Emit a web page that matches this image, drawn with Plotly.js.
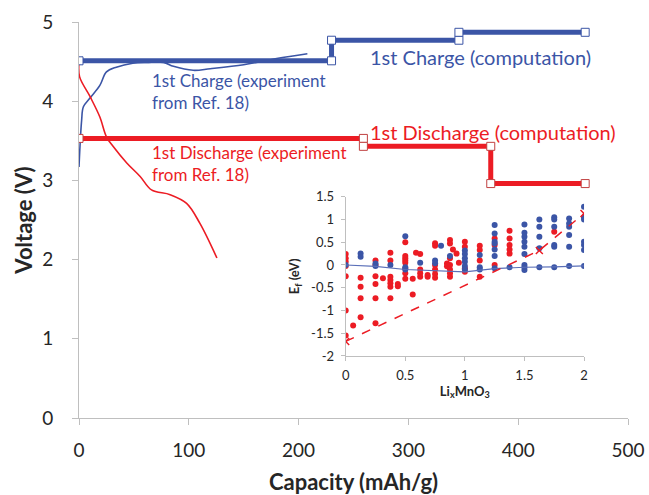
<!DOCTYPE html>
<html>
<head>
<meta charset="utf-8">
<script src="https://cdn.plot.ly/plotly-3.0.1.min.js"></script>
<style>html,body{margin:0;padding:0;background:#fff;}#chart{width:649px;height:495px;}</style>
</head>
<body>
<div id="chart"></div>
<script>
// Main chart: computation step profiles
const chargeCompX = [0, 230, 230, 346, 346, 461];
const chargeCompY = [4.51, 4.51, 4.77, 4.77, 4.87, 4.87];
const dischargeCompX = [0, 259, 259, 375, 375, 461];
const dischargeCompY = [3.53, 3.53, 3.43, 3.43, 2.96, 2.96];

// Main chart: experiment curves (Ref. 18)
const chargeExpX = [0, 2.4, 4, 10, 19, 25, 34, 49, 62, 77, 86, 104, 119.5, 150, 180, 208];
const chargeExpY = [3.17, 3.76, 3.93, 4.04, 4.2, 4.37, 4.43, 4.48, 4.49, 4.49, 4.44, 4.39, 4.41, 4.46, 4.54, 4.6];
const dischargeExpX = [0, 0.5, 10, 19, 25, 31, 43.5, 55.7, 66, 83, 98, 110, 125.6];
const dischargeExpY = [4.5, 4.31, 4.06, 3.8, 3.55, 3.43, 3.22, 3.05, 2.88, 2.82, 2.71, 2.46, 2.02];

// Inset: formation energies
const redX = [0,0,0,0,0,0,0, 0.0625, 0.125,0.125,0.125,0.125, 0.25,0.25,0.25,0.25,0.25,0.25, 0.3125,
  0.375,0.375,0.375,0.375,0.375,0.375,0.375, 0.4375,0.4375, 0.5,0.5,0.5,0.5,0.5,0.5,0.5,0.5,
  0.5625,0.5625, 0.59, 0.625,0.625,0.625,0.625, 0.6875,0.6875, 0.75,0.75,0.75,0.75,0.75,0.75,
  0.85,0.85, 0.875,0.875,0.875,0.875,0.875,0.875,0.875, 0.9, 0.93, 0.95, 1,1,1,1,
  1.125,1.125,1.125,1.125, 1.25,1.25,1.25, 1.375,1.375,1.375,1.375,1.375, 1.75];
const redY = [0.24,0.15,0.07,-0.02,-0.25,-1.0,-1.55, -1.33, -0.28,-0.48,-0.73,-1.15, 0.1,0.0,-0.25,-0.42,-0.73,-1.28, -0.29,
  0.27,0.1,-0.26,-0.33,-0.4,-0.48,-0.73, -0.42,-0.47, 0.5,0.2,0.15,0.1,0.05,-0.08,-0.18,-0.3,
  -0.3,-0.65, 0.27, 0.24,-0.1,-0.18,-0.26, -0.22,-0.26, 0.48,0.42,0,-0.1,-0.2,-0.28,
  0.03,-0.03, 0.55,0.47,0.15,0,-0.1,-0.18,-0.26, 0.34, 0.25, 0.05, 0.51,0.4,-0.07,-0.15,
  0.42,0.33,0.1,-0.26, 0.58,0.44,0, 0.75,0.58,0.44,0.34,0.25, 0.73];
const blueX = [0, 0.125,0.125, 0.25,0.25, 0.375, 0.5,0.5,0.5, 0.625, 0.75,0.75, 0.8, 0.875,
  1,1,1,1,1,1, 1.125,1.125,1.125, 1.25,1.25,1.25,1.25,1.25,1.25,1.25, 1.375,
  1.5,1.5,1.5,1.5,1.5,1.5,1.5,1.5,1.5, 1.625,1.625,1.625,1.625,1.625,
  1.75,1.75,1.75,1.75,1.75,1.75, 1.875,1.875,1.875,1.875,1.875,1.875, 2,2,2,2,2,2,2];
const blueY = [0, 0.25,0.18, 0.03,-0.02, 0, 0.63,-0.05,-0.1, 0.05, 0.1,0.04, 0.42, 0.2,
  0.32,0.24,0.15,0.07,-0.02,-0.1, 0.22,-0.05,-0.1, 0.88,0.69,0.51,0.47,0.34,0.2,-0.07, -0.05,
  0.89,0.71,0.62,0.51,0.4,0.24,0,-0.05,-0.11, 1.0,0.84,0.62,0.37,-0.05,
  1.05,1.0,0.84,0.44,0.4,-0.05, 1.02,0.91,0.84,0.66,0.4,-0.02, 1.28,1.05,1.0,0.51,0.44,0.33,-0.02];
const blueHullX = [0, 0.25, 0.5, 1, 1.25, 1.5, 1.75, 2];
const blueHullY = [0, -0.03, -0.1, -0.15, -0.08, -0.05, -0.04, -0.02];
const redHullX = [0, 1.625, 2];
const redHullY = [-1.68, 0.32, 1.13];

const BLUE = '#3B55A6';
const RED = '#EC1C24';
const FONT = 'Lato, "Open Sans", sans-serif';

const traces = [
  {x: chargeExpX, y: chargeExpY, mode: 'lines', line: {color: BLUE, width: 1.6, shape: 'spline'}, xaxis: 'x', yaxis: 'y', hoverinfo: 'skip'},
  {x: dischargeExpX, y: dischargeExpY, mode: 'lines', line: {color: RED, width: 1.6, shape: 'spline'}, xaxis: 'x', yaxis: 'y', hoverinfo: 'skip'},
  {x: chargeCompX, y: chargeCompY, mode: 'lines+markers', line: {color: BLUE, width: 5},
   marker: {symbol: 'square', size: 8, color: '#ffffff', line: {color: BLUE, width: 1}}, xaxis: 'x', yaxis: 'y'},
  {x: dischargeCompX, y: dischargeCompY, mode: 'lines+markers', line: {color: RED, width: 5},
   marker: {symbol: 'square', size: 8, color: '#ffffff', line: {color: '#c04040', width: 1}}, xaxis: 'x', yaxis: 'y'},
  {x: redX, y: redY, mode: 'markers', marker: {color: RED, size: 6}, xaxis: 'x2', yaxis: 'y2'},
  {x: blueX, y: blueY, mode: 'markers', marker: {color: BLUE, size: 6}, xaxis: 'x2', yaxis: 'y2'},
  {x: blueHullX, y: blueHullY, mode: 'lines', line: {color: '#5a6fb8', width: 1.2}, xaxis: 'x2', yaxis: 'y2'},
  {x: redHullX, y: redHullY, mode: 'lines+markers', line: {color: RED, width: 1.5, dash: 'dash'},
   marker: {symbol: 'x-thin', size: 7, color: RED, line: {color: RED, width: 1.5}}, xaxis: 'x2', yaxis: 'y2'}
];

const layout = {
  width: 649, height: 495,
  margin: {l: 79, r: 21, t: 22, b: 77},
  paper_bgcolor: '#ffffff', plot_bgcolor: 'rgba(0,0,0,0)',
  showlegend: false,
  font: {family: FONT, color: '#262626'},
  xaxis: {
    range: [0, 500], tickvals: [0, 100, 200, 300, 400, 500], showgrid: false, zeroline: false,
    showline: true, linecolor: '#bfbfbf', linewidth: 1, ticks: 'outside', ticklen: 6, tickcolor: '#bfbfbf',
    tickfont: {size: 19, color: '#262626'}, ticklabelstandoff: 9,
    title: {text: '<b>Capacity (mAh/g)</b>', font: {size: 22, color: '#262626'}, standoff: 15}
  },
  yaxis: {
    range: [0, 5], tickvals: [0, 1, 2, 3, 4, 5], showgrid: false, zeroline: false,
    showline: true, linecolor: '#bfbfbf', linewidth: 1, ticks: 'outside', ticklen: 6, tickcolor: '#bfbfbf',
    tickfont: {size: 19, color: '#262626'}, ticklabelstandoff: 15,
    title: {text: '<b>Voltage (V)</b>', font: {size: 22, color: '#262626'}, standoff: 3}
  },
  xaxis2: {
    domain: [0.4858, 0.9199], anchor: 'y2', range: [0, 2], tickvals: [0, 0.5, 1, 1.5, 2],
    showgrid: false, zeroline: false, showline: true, linecolor: '#bfbfbf', linewidth: 1,
    ticks: 'outside', ticklen: 4, tickcolor: '#bfbfbf', tickfont: {size: 13, color: '#262626'}, ticklabelstandoff: 3,
    title: {text: '<b>Li<sub>x</sub>MnO<sub>3</sub></b>', font: {size: 13, color: '#262626'}, standoff: 0}
  },
  yaxis2: {
    domain: [0.1566, 0.5588], anchor: 'x2', range: [-2, 1.5], tickvals: [-2, -1.5, -1, -0.5, 0, 0.5, 1, 1.5],
    ticktext: ['-2', '-1.5', '-1', '-0.5', '0', '0.5', '1', '1.5'],
    showgrid: false, zeroline: false, showline: true, linecolor: '#bfbfbf', linewidth: 1,
    ticks: 'outside', ticklen: 4, tickcolor: '#bfbfbf', tickfont: {size: 13, color: '#262626'}, ticklabelstandoff: 4,
    title: {text: '<b>E<sub>f</sub> (eV)</b>', font: {size: 13, color: '#262626'}, standoff: 8}
  },
  annotations: [
    {xref: 'x', yref: 'y', x: 366, y: 4.56, text: '1st Charge (computation)', showarrow: false,
     xanchor: 'center', yanchor: 'middle', font: {size: 20, color: BLUE}},
    {xref: 'x', yref: 'y', x: 376.6, y: 3.615, text: '1st Discharge (computation)', showarrow: false,
     xanchor: 'center', yanchor: 'middle', font: {size: 20, color: RED}},
    {xref: 'x', yref: 'y', x: 64.7, y: 4.12, text: '1st Charge (experiment<br>from Ref. 18)', showarrow: false,
     xanchor: 'left', yanchor: 'middle', align: 'left', font: {size: 17, color: BLUE}},
    {xref: 'x', yref: 'y', x: 64.7, y: 3.21, text: '1st Discharge (experiment<br>from Ref. 18)', showarrow: false,
     xanchor: 'left', yanchor: 'middle', align: 'left', font: {size: 17, color: RED}}
  ]
};

Plotly.newPlot('chart', traces, layout, {displayModeBar: false, staticPlot: true});
</script>
</body>
</html>
